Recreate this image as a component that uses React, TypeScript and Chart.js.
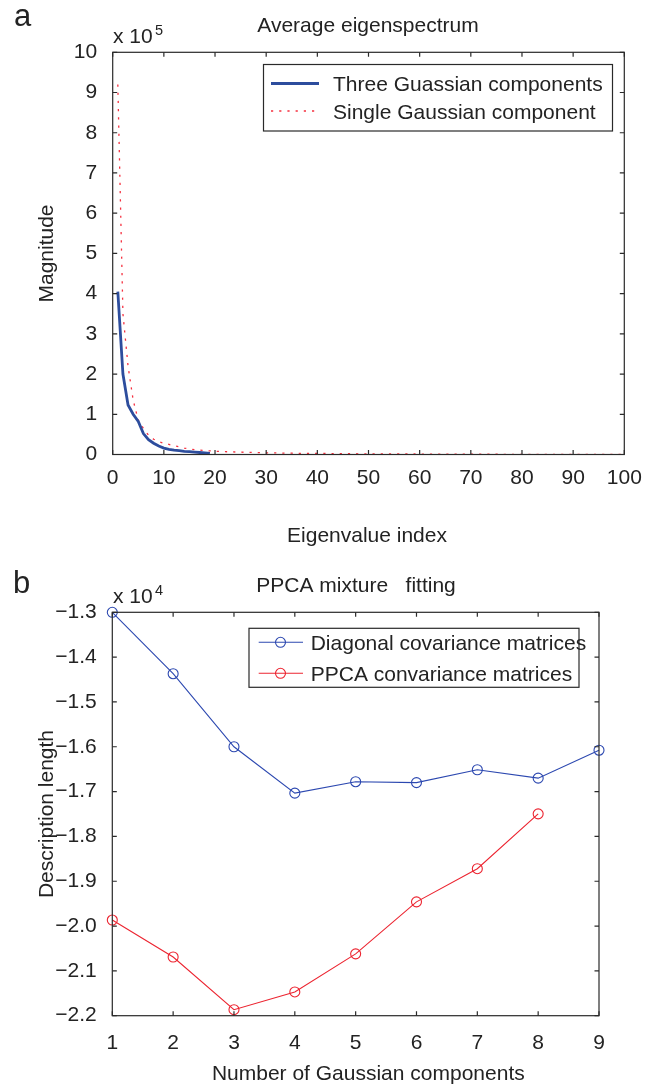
import React, { useEffect, useRef } from 'react';
import { Chart, registerables } from 'chart.js';

Chart.register(...registerables);

const FONT = "'Liberation Sans', Arial, Helvetica, sans-serif";
const TEXT = '#232323';
const AXIS = '#2a2a2a';

// ---------- Panel a: average eigenspectrum (values in units of 1e5) ----------
const eigScale = 1e5;
const threeGaussian = [
  4.05, 2.0, 1.23, 1.0, 0.82, 0.52, 0.37, 0.28, 0.21, 0.16,
  0.13, 0.11, 0.095, 0.08, 0.07, 0.06, 0.05, 0.04, 0.03,
];
const singleGaussian = [
  9.2, 3.5, 2.2, 1.35, 0.85, 0.65, 0.48, 0.38, 0.32, 0.28,
  0.25, 0.22, 0.19, 0.16, 0.14, 0.12, 0.11, 0.1, 0.09, 0.08,
  0.075, 0.07, 0.066, 0.062, 0.058, 0.054, 0.051, 0.048, 0.045, 0.042,
  0.04, 0.038, 0.036, 0.034, 0.032, 0.03, 0.029, 0.028, 0.027, 0.026,
  0.025, 0.024, 0.023, 0.022, 0.021, 0.02, 0.019, 0.018, 0.018, 0.017,
  0.016, 0.016, 0.015, 0.014, 0.014, 0.013, 0.013, 0.012, 0.012, 0.011,
  0.011, 0.01, 0.01, 0.009, 0.009, 0.009, 0.008, 0.008, 0.008, 0.007,
  0.007, 0.007, 0.006, 0.006, 0.006, 0.006, 0.005, 0.005, 0.005, 0.005,
  0.004, 0.004, 0.004, 0.004, 0.004, 0.003, 0.003, 0.003, 0.003, 0.003,
  0.003, 0.002, 0.002, 0.002, 0.002, 0.002, 0.002, 0.001, 0.001, 0.001,
];
const eigXTicks = [0, 10, 20, 30, 40, 50, 60, 70, 80, 90, 100];
const eigYTicks = [0, 1, 2, 3, 4, 5, 6, 7, 8, 9, 10];
const eigLegend = ['Three Guassian components', 'Single Gaussian component'];

// ---------- Panel b: PPCA mixture fitting (description length) ----------
const dlScale = 1e4;
const numComponents = [1, 2, 3, 4, 5, 6, 7, 8, 9];
const diagonalCov = [-13000, -14370, -16000, -17035, -16780, -16800, -16513, -16700, -16077];
const ppcaCov = [-19866, -20690, -21866, -21470, -20620, -19460, -18720, -17497];
const dlYTicks = [-22000, -21000, -20000, -19000, -18000, -17000, -16000, -15000, -14000, -13000];
const dlLegend = ['Diagonal covariance matrices', 'PPCA convariance matrices'];

const BLUE_A = '#2d4d9d';
const RED_A = '#f5303f';
const BLUE_B = '#2c48b0';
const RED_B = '#ec2430';
const DOTS = [2.2, 6];

type TextItem = {
  text: string;
  x: number;
  y: number;
  size: number;
  align?: CanvasTextAlign;
  rotate?: boolean;
};

function makeFramePlugin(id: string, texts: TextItem[], legend: (ctx: CanvasRenderingContext2D) => void) {
  return {
    id,
    afterDraw(chart: any) {
      const { ctx, chartArea } = chart;
      const { left, right, top, bottom } = chartArea;
      const xs = chart.scales.x;
      const ys = chart.scales.y;
      ctx.save();
      ctx.strokeStyle = AXIS;
      ctx.lineWidth = 1.2;
      ctx.setLineDash([]);
      ctx.strokeRect(left, top, right - left, bottom - top);
      const tl = 4.5;
      ctx.beginPath();
      xs.ticks.forEach((t: any) => {
        const px = xs.getPixelForValue(t.value);
        ctx.moveTo(px, bottom);
        ctx.lineTo(px, bottom - tl);
        ctx.moveTo(px, top);
        ctx.lineTo(px, top + tl);
      });
      ys.ticks.forEach((t: any) => {
        const py = ys.getPixelForValue(t.value);
        ctx.moveTo(left, py);
        ctx.lineTo(left + tl, py);
        ctx.moveTo(right, py);
        ctx.lineTo(right - tl, py);
      });
      ctx.stroke();

      ctx.fillStyle = TEXT;
      ctx.textBaseline = 'alphabetic';
      texts.forEach((t) => {
        ctx.font = `${t.size}px ${FONT}`;
        ctx.textAlign = t.align || 'left';
        if (t.rotate) {
          ctx.save();
          ctx.translate(t.x, t.y);
          ctx.rotate(-Math.PI / 2);
          ctx.fillText(t.text, 0, 0);
          ctx.restore();
        } else {
          ctx.fillText(t.text, t.x, t.y);
        }
      });
      legend(ctx);
      ctx.restore();
    },
  };
}

function configA() {
  const texts: TextItem[] = [
    { text: 'a', x: 14, y: 26, size: 31 },
    { text: 'Average eigenspectrum', x: 368, y: 32, size: 21, align: 'center' },
    { text: 'x 10', x: 113, y: 43, size: 21 },
    { text: '5', x: 155, y: 35, size: 14.5 },
    { text: 'Magnitude', x: 53, y: 253.5, size: 21, align: 'center', rotate: true },
    { text: 'Eigenvalue index', x: 367, y: 542, size: 21, align: 'center' },
  ];
  const legend = (ctx: CanvasRenderingContext2D) => {
    ctx.fillStyle = '#ffffff';
    ctx.fillRect(263.5, 64.5, 349, 66.5);
    ctx.strokeStyle = AXIS;
    ctx.lineWidth = 1.2;
    ctx.strokeRect(263.5, 64.5, 349, 66.5);
    ctx.strokeStyle = BLUE_A;
    ctx.lineWidth = 2.8;
    ctx.beginPath();
    ctx.moveTo(271, 83.5);
    ctx.lineTo(319, 83.5);
    ctx.stroke();
    ctx.strokeStyle = RED_A;
    ctx.lineWidth = 1.3;
    ctx.setLineDash(DOTS);
    ctx.beginPath();
    ctx.moveTo(271, 111);
    ctx.lineTo(319, 111);
    ctx.stroke();
    ctx.setLineDash([]);
    ctx.fillStyle = TEXT;
    ctx.font = `21px ${FONT}`;
    ctx.textAlign = 'left';
    ctx.fillText(eigLegend[0], 333, 91);
    ctx.fillText(eigLegend[1], 333, 119);
  };
  return {
    type: 'line',
    data: {
      datasets: [
        {
          label: eigLegend[0],
          data: threeGaussian.map((v, i) => ({ x: i + 1, y: v * eigScale })),
          borderColor: BLUE_A,
          borderWidth: 2.8,
          pointRadius: 0,
          tension: 0,
          order: 1,
        },
        {
          label: eigLegend[1],
          data: singleGaussian.map((v, i) => ({ x: i + 1, y: v * eigScale })),
          borderColor: RED_A,
          borderWidth: 1.3,
          borderDash: DOTS,
          pointRadius: 0,
          tension: 0,
          order: 2,
        },
      ],
    },
    options: {
      responsive: false,
      animation: false,
      devicePixelRatio: 1,
      layout: { padding: { left: 0, top: 52.3, right: 33.7, bottom: 0 } },
      plugins: { legend: { display: false }, title: { display: false }, tooltip: { enabled: false } },
      scales: {
        x: {
          type: 'linear',
          min: 0,
          max: 100,
          afterBuildTicks: (s: any) => {
            s.ticks = eigXTicks.map((v) => ({ value: v }));
          },
          afterFit: (s: any) => {
            s.height = 105.5;
          },
          grid: { display: false, drawTicks: false },
          border: { display: false },
          ticks: {
            autoSkip: false,
            maxRotation: 0,
            padding: 11,
            color: TEXT,
            font: { family: FONT, size: 21 },
            callback: (v: any) => String(v),
          },
        },
        y: {
          type: 'linear',
          min: 0,
          max: 10 * eigScale,
          afterBuildTicks: (s: any) => {
            s.ticks = eigYTicks.map((v) => ({ value: v * eigScale }));
          },
          afterFit: (s: any) => {
            s.width = 112.7;
          },
          grid: { display: false, drawTicks: false },
          border: { display: false },
          ticks: {
            autoSkip: false,
            padding: 15.5,
            color: TEXT,
            font: { family: FONT, size: 21 },
            callback: (v: any) => String(Math.round(v / eigScale)),
          },
        },
      },
    },
    plugins: [makeFramePlugin('frameA', texts, legend)],
  };
}

function configB() {
  const texts: TextItem[] = [
    { text: 'b', x: 13, y: 33, size: 31 },
    { text: 'PPCA mixture   fitting', x: 356, y: 31.7, size: 21, align: 'center' },
    { text: 'x 10', x: 113, y: 43, size: 21 },
    { text: '4', x: 155, y: 35, size: 14.5 },
    { text: 'Description length', x: 53, y: 254, size: 21, align: 'center', rotate: true },
    { text: 'Number of Gaussian components', x: 368.3, y: 520, size: 21, align: 'center' },
  ];
  const legend = (ctx: CanvasRenderingContext2D) => {
    ctx.fillStyle = '#ffffff';
    ctx.fillRect(249, 68.3, 330, 59);
    ctx.strokeStyle = AXIS;
    ctx.lineWidth = 1.2;
    ctx.strokeRect(249, 68.3, 330, 59);
    const rows = [
      { y: 82.3, c: BLUE_B },
      { y: 113.3, c: RED_B },
    ];
    rows.forEach((r, i) => {
      ctx.strokeStyle = r.c;
      ctx.lineWidth = 1.1;
      ctx.beginPath();
      ctx.moveTo(258.7, r.y);
      ctx.lineTo(303, r.y);
      ctx.stroke();
      ctx.beginPath();
      ctx.arc(280.5, r.y, 5, 0, Math.PI * 2);
      ctx.stroke();
      ctx.fillStyle = TEXT;
      ctx.font = `21px ${FONT}`;
      ctx.textAlign = 'left';
      ctx.fillText(dlLegend[i], 310.7, r.y + 7.6);
    });
  };
  const markerDs = (label: string, values: number[], color: string) => ({
    label,
    data: values.map((v, i) => ({ x: numComponents[i], y: v })),
    borderColor: color,
    borderWidth: 1.1,
    pointRadius: 5,
    pointStyle: 'circle',
    pointBorderColor: color,
    pointBackgroundColor: 'rgba(0,0,0,0)',
    pointBorderWidth: 1.1,
    tension: 0,
    clip: false,
  });
  return {
    type: 'line',
    data: {
      datasets: [markerDs(dlLegend[0], diagonalCov, BLUE_B), markerDs(dlLegend[1], ppcaCov, RED_B)],
    },
    options: {
      responsive: false,
      animation: false,
      devicePixelRatio: 1,
      layout: { padding: { left: 0, top: 52.3, right: 59, bottom: 0 } },
      plugins: { legend: { display: false }, title: { display: false }, tooltip: { enabled: false } },
      scales: {
        x: {
          type: 'linear',
          min: 1,
          max: 9,
          afterBuildTicks: (s: any) => {
            s.ticks = numComponents.map((v) => ({ value: v }));
          },
          afterFit: (s: any) => {
            s.height = 69.3;
          },
          grid: { display: false, drawTicks: false },
          border: { display: false },
          ticks: {
            autoSkip: false,
            maxRotation: 0,
            padding: 14.5,
            color: TEXT,
            font: { family: FONT, size: 21 },
            callback: (v: any) => String(v),
          },
        },
        y: {
          type: 'linear',
          min: -22000,
          max: -13000,
          afterBuildTicks: (s: any) => {
            s.ticks = dlYTicks.map((v) => ({ value: v }));
          },
          afterFit: (s: any) => {
            s.width = 112.3;
          },
          grid: { display: false, drawTicks: false },
          border: { display: false },
          ticks: {
            autoSkip: false,
            padding: 15.5,
            color: TEXT,
            font: { family: FONT, size: 21 },
            callback: (v: any) => (v / dlScale).toFixed(1).replace('-', '\u2212'),
          },
        },
      },
    },
    plugins: [makeFramePlugin('frameB', texts, legend)],
  };
}

function Panel({ top, height, build }: { top: number; height: number; build: () => any }) {
  const ref = useRef<HTMLCanvasElement | null>(null);
  useEffect(() => {
    if (!ref.current) return;
    const chart = new Chart(ref.current, build());
    return () => chart.destroy();
  }, []);
  return (
    <div style={{ position: 'absolute', left: 0, top, width: 658, height }}>
      <canvas ref={ref} width={658} height={height} style={{ display: 'block', width: 658, height }} />
    </div>
  );
}

export default function App() {
  return (
    <div style={{ position: 'absolute', left: 0, top: 0, width: 658, height: 1085, background: '#ffffff' }}>
      <Panel top={0} height={560} build={configA} />
      <Panel top={560} height={525} build={configB} />
    </div>
  );
}
